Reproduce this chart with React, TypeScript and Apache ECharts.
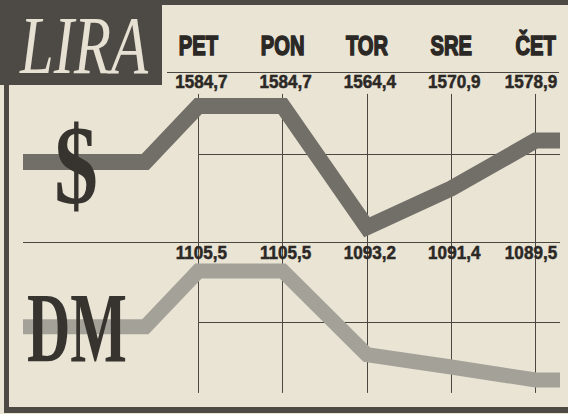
import React, { useEffect, useRef } from 'react';
import * as echarts from 'echarts';

// Days of the week (Slovene) and exchange rates of the lira
const days = ['PET', 'PON', 'TOR', 'SRE', 'ČET'];
const dayIndex = [0, 1, 2, 3, 4];
const liraUsd = [1584.7, 1584.7, 1564.4, 1570.9, 1578.9];
const liraDm = [1105.5, 1105.5, 1093.2, 1091.4, 1089.5];
const liraUsdLabels = ['1584,7', '1584,7', '1564,4', '1570,9', '1578,9'];
const liraDmLabels = ['1105,5', '1105,5', '1093,2', '1091,4', '1089,5'];
// previous-week level shown as the flat lead-in of each band
const prevUsd = 1575.3;
const prevDm = 1097.3;
const leadX = [-2.08, -0.63];
const tailX = 4.29;
// reference lines
const usdRef = 1576.65;
const dmRef = 1098.0;
const usdSeparator = 1561.93;

const PAPER = '#e9e4d4';
const INK = '#2b2825';
const DARK = '#4d4944';
const GRIDC = '#4a4640';

export default function App() {
  const ref = useRef<HTMLDivElement>(null);

  useEffect(() => {
    if (!ref.current) return;
    const chart = echarts.init(ref.current, undefined, { renderer: 'svg' });

    const usdData: number[][] = [
      [leadX[0], prevUsd],
      [leadX[1], prevUsd],
      ...dayIndex.map((d, i) => [d, liraUsd[i]]),
      [tailX, liraUsd[liraUsd.length - 1]],
    ];
    const dmData: number[][] = [
      [leadX[0], prevDm],
      [leadX[1], prevDm],
      ...dayIndex.map((d, i) => [d, liraDm[i]]),
      [tailX, liraDm[liraDm.length - 1]],
    ];

    const usdGrid = [
      ...dayIndex.map((d) => ({ coords: [[d, 1586.7], [d, 1560]] })),
      { coords: [[0, usdRef], [tailX, usdRef]] },
      { coords: [[leadX[0], usdSeparator], [tailX, usdSeparator]] },
    ];
    const dmGrid = [
      ...dayIndex.map((d) => ({ coords: [[d, 1108.06], [d, 1087.6]] })),
      { coords: [[0, dmRef], [tailX, dmRef]] },
    ];

    chart.setOption({
      animation: false,
      backgroundColor: PAPER,
      grid: [
        { left: 23, right: 8, top: 74.2, height: 179.4 },
        { left: 23, right: 8, top: 240.4, height: 170.2 },
      ],
      xAxis: [
        { gridIndex: 0, type: 'value', min: leadX[0], max: tailX, show: false },
        { gridIndex: 1, type: 'value', min: leadX[0], max: tailX, show: false },
      ],
      yAxis: [
        { gridIndex: 0, type: 'value', min: 1560, max: 1590, show: false },
        { gridIndex: 1, type: 'value', min: 1085, max: 1110, show: false },
      ],
      series: [
        {
          type: 'lines',
          coordinateSystem: 'cartesian2d',
          xAxisIndex: 0,
          yAxisIndex: 0,
          data: usdGrid,
          lineStyle: { color: GRIDC, width: 1, opacity: 1 },
          silent: true,
          z: 1,
        },
        {
          type: 'lines',
          coordinateSystem: 'cartesian2d',
          xAxisIndex: 1,
          yAxisIndex: 1,
          data: dmGrid,
          lineStyle: { color: GRIDC, width: 1, opacity: 1 },
          silent: true,
          z: 1,
        },
        {
          type: 'line',
          xAxisIndex: 0,
          yAxisIndex: 0,
          data: usdData,
          symbol: 'none',
          clip: false,
          lineStyle: { width: 16, color: '#726e68', cap: 'butt', join: 'miter' },
          silent: true,
          z: 3,
        },
        {
          type: 'line',
          xAxisIndex: 1,
          yAxisIndex: 1,
          data: dmData,
          symbol: 'none',
          clip: false,
          lineStyle: { width: 15, color: '#a4a199', cap: 'butt', join: 'miter' },
          silent: true,
          z: 3,
        },
      ],
    });

    const px = (i: number) => chart.convertToPixel({ xAxisIndex: 0 }, i) as number;

    const headers = days.map((d, i) => ({
      type: 'text',
      x: px(dayIndex[i]),
      y: 45,
      scaleX: 0.72,
      z: 100,
      style: {
        text: d,
        fill: INK,
        stroke: INK,
        lineWidth: 1.6,
        font: 'bold 28px "Liberation Sans", Arial, sans-serif',
        align: 'center',
        verticalAlign: 'middle',
      },
    }));
    const valueText = (labels: string[], y: number) =>
      labels.map((t, i) => ({
        type: 'text',
        x: Math.min(px(dayIndex[i]) + 3, 531),
        y,
        scaleX: 0.95,
        z: 100,
        style: {
          text: t,
          fill: INK,
          stroke: INK,
          lineWidth: 0.5,
          font: 'bold 18px "Liberation Sans", Arial, sans-serif',
          align: 'center',
          verticalAlign: 'middle',
        },
      }));

    chart.setOption({
      graphic: [
        { type: 'rect', shape: { x: 0, y: 0, width: 568, height: 5 }, style: { fill: DARK }, z: 50 },
        { type: 'rect', shape: { x: 4, y: 0, width: 5, height: 413 }, style: { fill: DARK }, z: 50 },
        { type: 'rect', shape: { x: 4, y: 407, width: 564, height: 6 }, style: { fill: DARK }, z: 50 },
        { type: 'rect', shape: { x: 0, y: 0, width: 162, height: 85 }, style: { fill: DARK }, z: 50 },
        {
          type: 'line',
          shape: { x1: 167, y1: 72.5, x2: 559, y2: 72.5 },
          style: { stroke: GRIDC, lineWidth: 1 },
          z: 50,
        },
        {
          type: 'text',
          x: 84,
          y: 45,
          scaleX: 0.73,
          z: 100,
          style: {
            text: 'LIRA',
            fill: '#e6e1d2',
            font: 'italic 83px "Liberation Serif", "Times New Roman", serif',
            lineHeight: 66,
            align: 'center',
            verticalAlign: 'middle',
          },
        },
        {
          type: 'text',
          x: 76,
          y: 166,
          scaleX: 0.78,
          z: 100,
          style: {
            text: '$',
            fill: '#37332f',
            font: 'bold 112px "Liberation Serif", "Times New Roman", serif',
            lineHeight: 90,
            align: 'center',
            verticalAlign: 'middle',
          },
        },
        {
          type: 'text',
          x: 77,
          y: 328,
          scaleX: 0.6,
          z: 100,
          style: {
            text: 'DM',
            fill: '#37332f',
            font: 'bold 100px "Liberation Serif", "Times New Roman", serif',
            lineHeight: 76,
            align: 'center',
            verticalAlign: 'middle',
          },
        },
        ...headers,
        ...valueText(liraUsdLabels, 81.5),
        ...valueText(liraDmLabels, 252.5),
      ],
    });

    return () => chart.dispose();
  }, []);

  return (
    <div
      ref={ref}
      style={{ position: 'fixed', left: 0, top: 0, width: 568, height: 414 }}
    />
  );
}
